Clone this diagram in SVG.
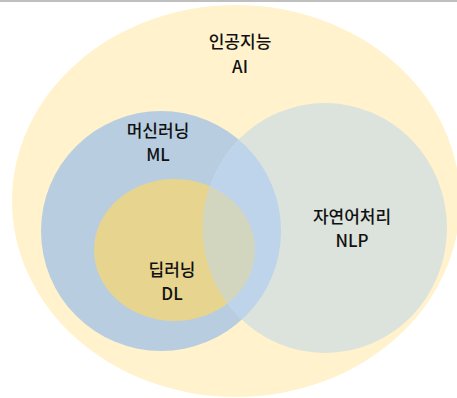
<svg xmlns="http://www.w3.org/2000/svg" width="457" height="398" viewBox="0 0 457 398">
<style>
text{font-family:"Noto Sans CJK KR","Noto Sans",sans-serif;font-size:17px;font-weight:500;fill:#111;text-anchor:middle}
</style>
<defs>
<clipPath id="cGray"><ellipse cx="325" cy="228" rx="122" ry="125"/></clipPath>
</defs>
<rect x="0" y="0" width="457" height="398" fill="#fff"/>
<rect x="0" y="0" width="457" height="2" fill="#bfbfbf"/>
<g id="ai">
<ellipse cx="236" cy="201" rx="224" ry="196" fill="#FFF2CC"/>
<text x="240" y="48">인공지능</text>
<text x="240" y="73">AI</text>
</g>
<g id="ml">
<circle cx="161" cy="231" r="120" fill="#B8CEE0"/>
<text x="158" y="137">머신러닝</text>
<text x="158" y="161">ML</text>
</g>
<g id="dl">
<ellipse cx="174.5" cy="250" rx="80.5" ry="71" fill="#E6D48F"/>
</g>
<g id="nlp">
<ellipse cx="325" cy="228" rx="122" ry="125" fill="#DBE3DC"/>
<g clip-path="url(#cGray)">
<circle cx="161" cy="231" r="120" fill="#BED4EA"/>
<ellipse cx="174.5" cy="250" rx="80.5" ry="71" fill="#D3D6BF"/>
</g>
<text x="352" y="223">자연어처리</text>
<text x="352" y="247">NLP</text>
</g>
<g id="dl-label">
<text x="172" y="276">딥러닝</text>
<text x="172" y="300">DL</text>
</g>
<g id="connectors"/>
</svg>
